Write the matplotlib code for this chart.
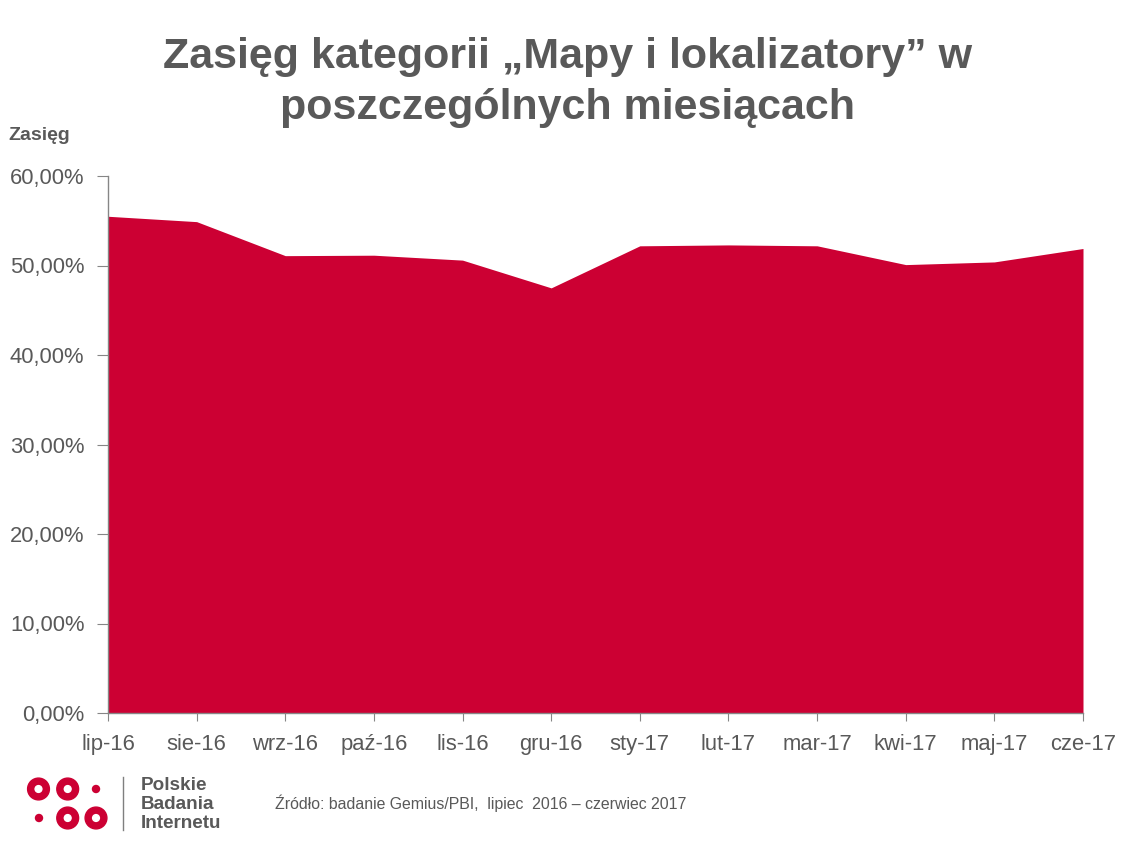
import numpy as np
import matplotlib
matplotlib.use("Agg")
import matplotlib.pyplot as plt
from matplotlib.patches import Circle
from matplotlib.ticker import FuncFormatter

plt.rcParams['font.family'] = ['Liberation Sans', 'DejaVu Sans']

months = ['lip-16', 'sie-16', 'wrz-16', 'paź-16', 'lis-16', 'gru-16',
          'sty-17', 'lut-17', 'mar-17', 'kwi-17', 'maj-17', 'cze-17']
reach = [55.5, 54.9, 51.1, 51.15, 50.6, 47.5,
         52.2, 52.3, 52.2, 50.1, 50.4, 51.9]
y_ticks = [0, 10, 20, 30, 40, 50, 60]

W, H = 1136, 852
grey = '#595959'
red = '#cc0033'

fig = plt.figure(figsize=(W / 100, H / 100), dpi=100)
# [left, bottom, width, height] in figure fractions from pixel edges
ax = fig.add_axes([108 / W, (H - 713) / H, (1083 - 108) / W, (713 - 176) / H])

x = np.arange(len(months))
ax.fill_between(x, 0, reach, color=red, linewidth=0)
ax.set_xlim(0, len(months) - 1)
ax.set_ylim(0, 60)
ax.set_xticks(x)
ax.set_xticklabels(months)
ax.set_yticks(y_ticks)
ax.yaxis.set_major_formatter(FuncFormatter(lambda v, p: f'{v:.2f}'.replace('.', ',') + '%'))

for s in ['top', 'right']:
    ax.spines[s].set_visible(False)
for s in ['left', 'bottom']:
    ax.spines[s].set_color('#868686')
    ax.spines[s].set_linewidth(1)
ax.tick_params(axis='both', colors='#868686', labelcolor=grey, labelsize=15.8)
ax.tick_params(axis='y', length=8, pad=9)
ax.tick_params(axis='x', length=6, pad=9)

fig.text(0.5, 1 - 82.5 / H, 'Zasięg kategorii „Mapy i lokalizatory” w\nposzczególnych miesiącach',
         ha='center', va='center', fontsize=31, fontweight='bold', color=grey,
         linespacing=1.38)
fig.text(8 / W, 1 - 135 / H, 'Zasięg', ha='left', va='center', fontsize=14,
         fontweight='bold', color=grey)
fig.text(275 / W, 1 - 803 / H, 'Źródło: badanie Gemius/PBI,  lipiec  2016 – czerwiec 2017',
         ha='left', va='center', fontsize=11.45, color=grey)

# logo
lg = fig.add_axes([0, 0, 1, 1], zorder=-1)
lg.set_xlim(0, W)
lg.set_ylim(H, 0)
lg.axis('off')
for cx, cy in [(38.5, 789), (67.7, 789), (67.7, 818), (96, 818)]:
    lg.add_patch(Circle((cx, cy), 10.9, color=red))
    lg.add_patch(Circle((cx, cy), 3.4, color='white'))
for cx, cy in [(96, 789), (39, 818)]:
    lg.add_patch(Circle((cx, cy), 3.5, color=red))
lg.plot([123, 123], [777, 830], color='#7f7f7f', linewidth=1)
for i, word in enumerate(['Polskie', 'Badania', 'Internetu']):
    lg.text(141, 786 + i * 18.5, word, ha='left', va='center', fontsize=13.6,
            fontweight='bold', color=grey)

fig.savefig('out.png', dpi=100)
